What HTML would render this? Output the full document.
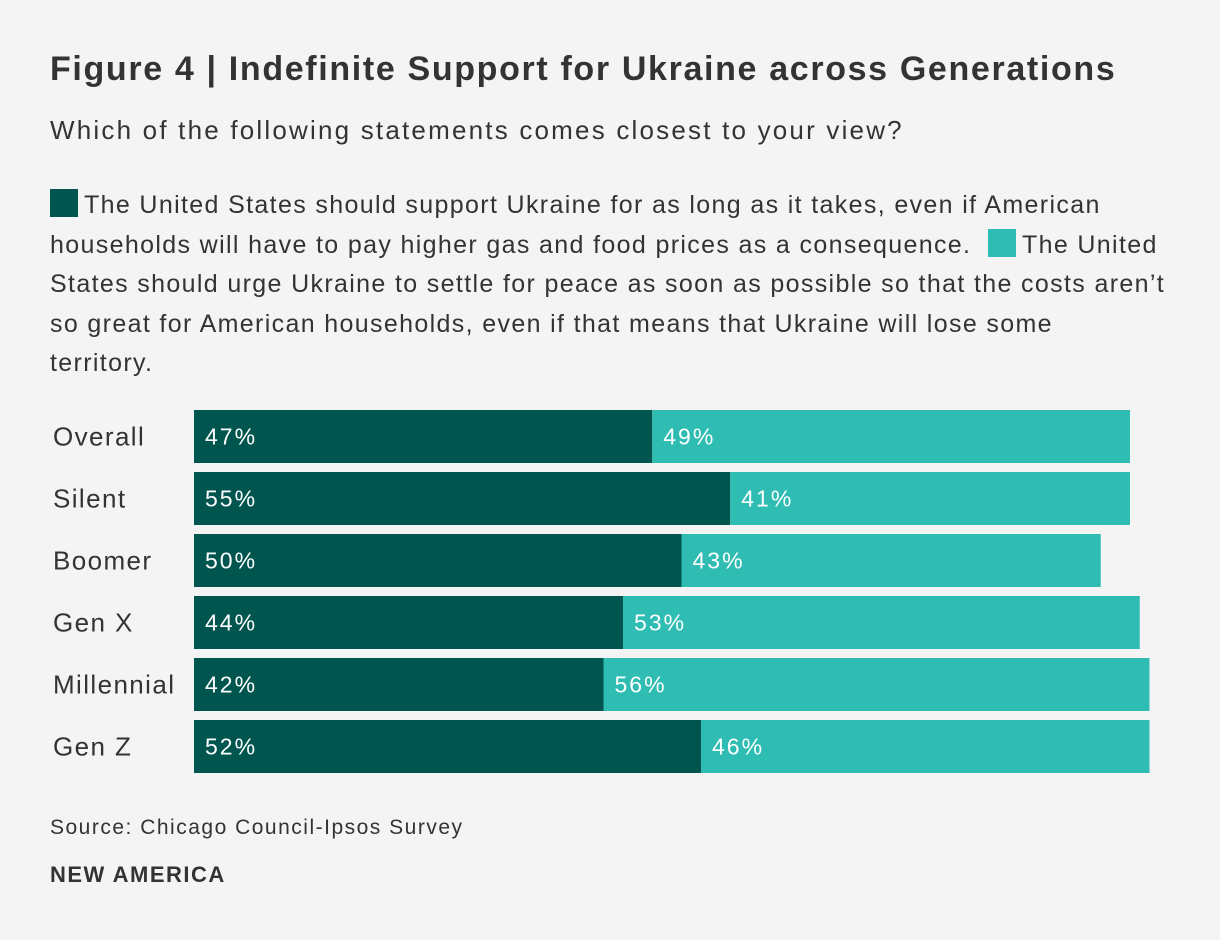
<!DOCTYPE html>
<html><head><meta charset="utf-8"><style>
body{margin:0;background:#f4f4f4;width:1220px;height:940px;overflow:hidden;font-family:"Liberation Sans",sans-serif;color:#333}
h1{position:absolute;left:50px;top:50px;margin:0;font-size:34px;font-weight:bold;color:#333;letter-spacing:1.65px;white-space:nowrap}
.sub{position:absolute;left:50px;top:115px;font-size:26px;color:#333;letter-spacing:2.2px;white-space:nowrap}
.legend{position:absolute;left:50px;top:186px;width:1170px;font-size:25px;line-height:39.5px;color:#333;letter-spacing:1.35px;white-space:nowrap}
.sw{display:inline-block;width:28px;height:28px;vertical-align:-4px;margin-right:6px}
.src{position:absolute;left:50px;top:816px;font-size:21px;letter-spacing:1.5px}
.brand{position:absolute;left:50px;top:862px;font-size:22px;font-weight:bold;letter-spacing:1.5px}
</style></head><body>
<h1>Figure 4 | Indefinite Support for Ukraine across Generations</h1>
<div class="sub">Which of the following statements comes closest to your view?</div>
<div class="legend"><span class="sw" style="background:#00554f"></span>The United States should support Ukraine for as long as it takes, even if American<br>households will have to pay higher gas and food prices as a consequence. &nbsp;<span class="sw" style="background:#2ebcb3"></span>The United<br>States should urge Ukraine to settle for peace as soon as possible so that the costs aren’t<br>so great for American households, even if that means that Ukraine will lose some<br>territory.</div>
<svg id="chart" width="1220" height="940" style="position:absolute;left:0;top:0"></svg>
<div class="src">Source: Chicago Council-Ipsos Survey</div>
<div class="brand">NEW AMERICA</div>
<script>
const categories=["Overall","Silent","Boomer","Gen X","Millennial","Gen Z"];
const supportVals=[47,55,50,44,42,52];
const settleVals=[49,41,43,53,56,46];
const svg=document.getElementById('chart');
const NS="http://www.w3.org/2000/svg";
const x0=194,pxPer=9.75,y0=410,pitch=62,bh=53;
const xs=v=>x0+v*pxPer;
function mk(t,a){const e=document.createElementNS(NS,t);for(const k in a)e.setAttribute(k,a[k]);svg.appendChild(e);return e;}
categories.forEach((c,i)=>{
  const y=y0+i*pitch;
  const l=mk('text',{x:53,y:y+bh/2+9,'font-size':26,'letter-spacing':1.4,fill:'#333','font-family':'Liberation Sans, sans-serif'});
  l.textContent=c;
  
  
  const r1=mk('rect',{x:x0,y:y,width:xs(supportVals[i])-x0,height:bh,fill:'#00554f'});
  
  
  const r2=mk('rect',{x:xs(supportVals[i]),y:y,width:settleVals[i]*pxPer,height:bh,fill:'#2ebcb3'});
  
  
  const t1=mk('text',{x:x0+11,y:y+bh/2+8,'font-size':23,'letter-spacing':2,fill:'#fff','font-family':'Liberation Sans, sans-serif'});
  t1.textContent=supportVals[i]+'%';
  
  
  const t2=mk('text',{x:xs(supportVals[i])+11,y:y+bh/2+8,'font-size':23,'letter-spacing':2,fill:'#fff','font-family':'Liberation Sans, sans-serif'});
  t2.textContent=settleVals[i]+'%';
  
  
});
</script>
</body></html>
